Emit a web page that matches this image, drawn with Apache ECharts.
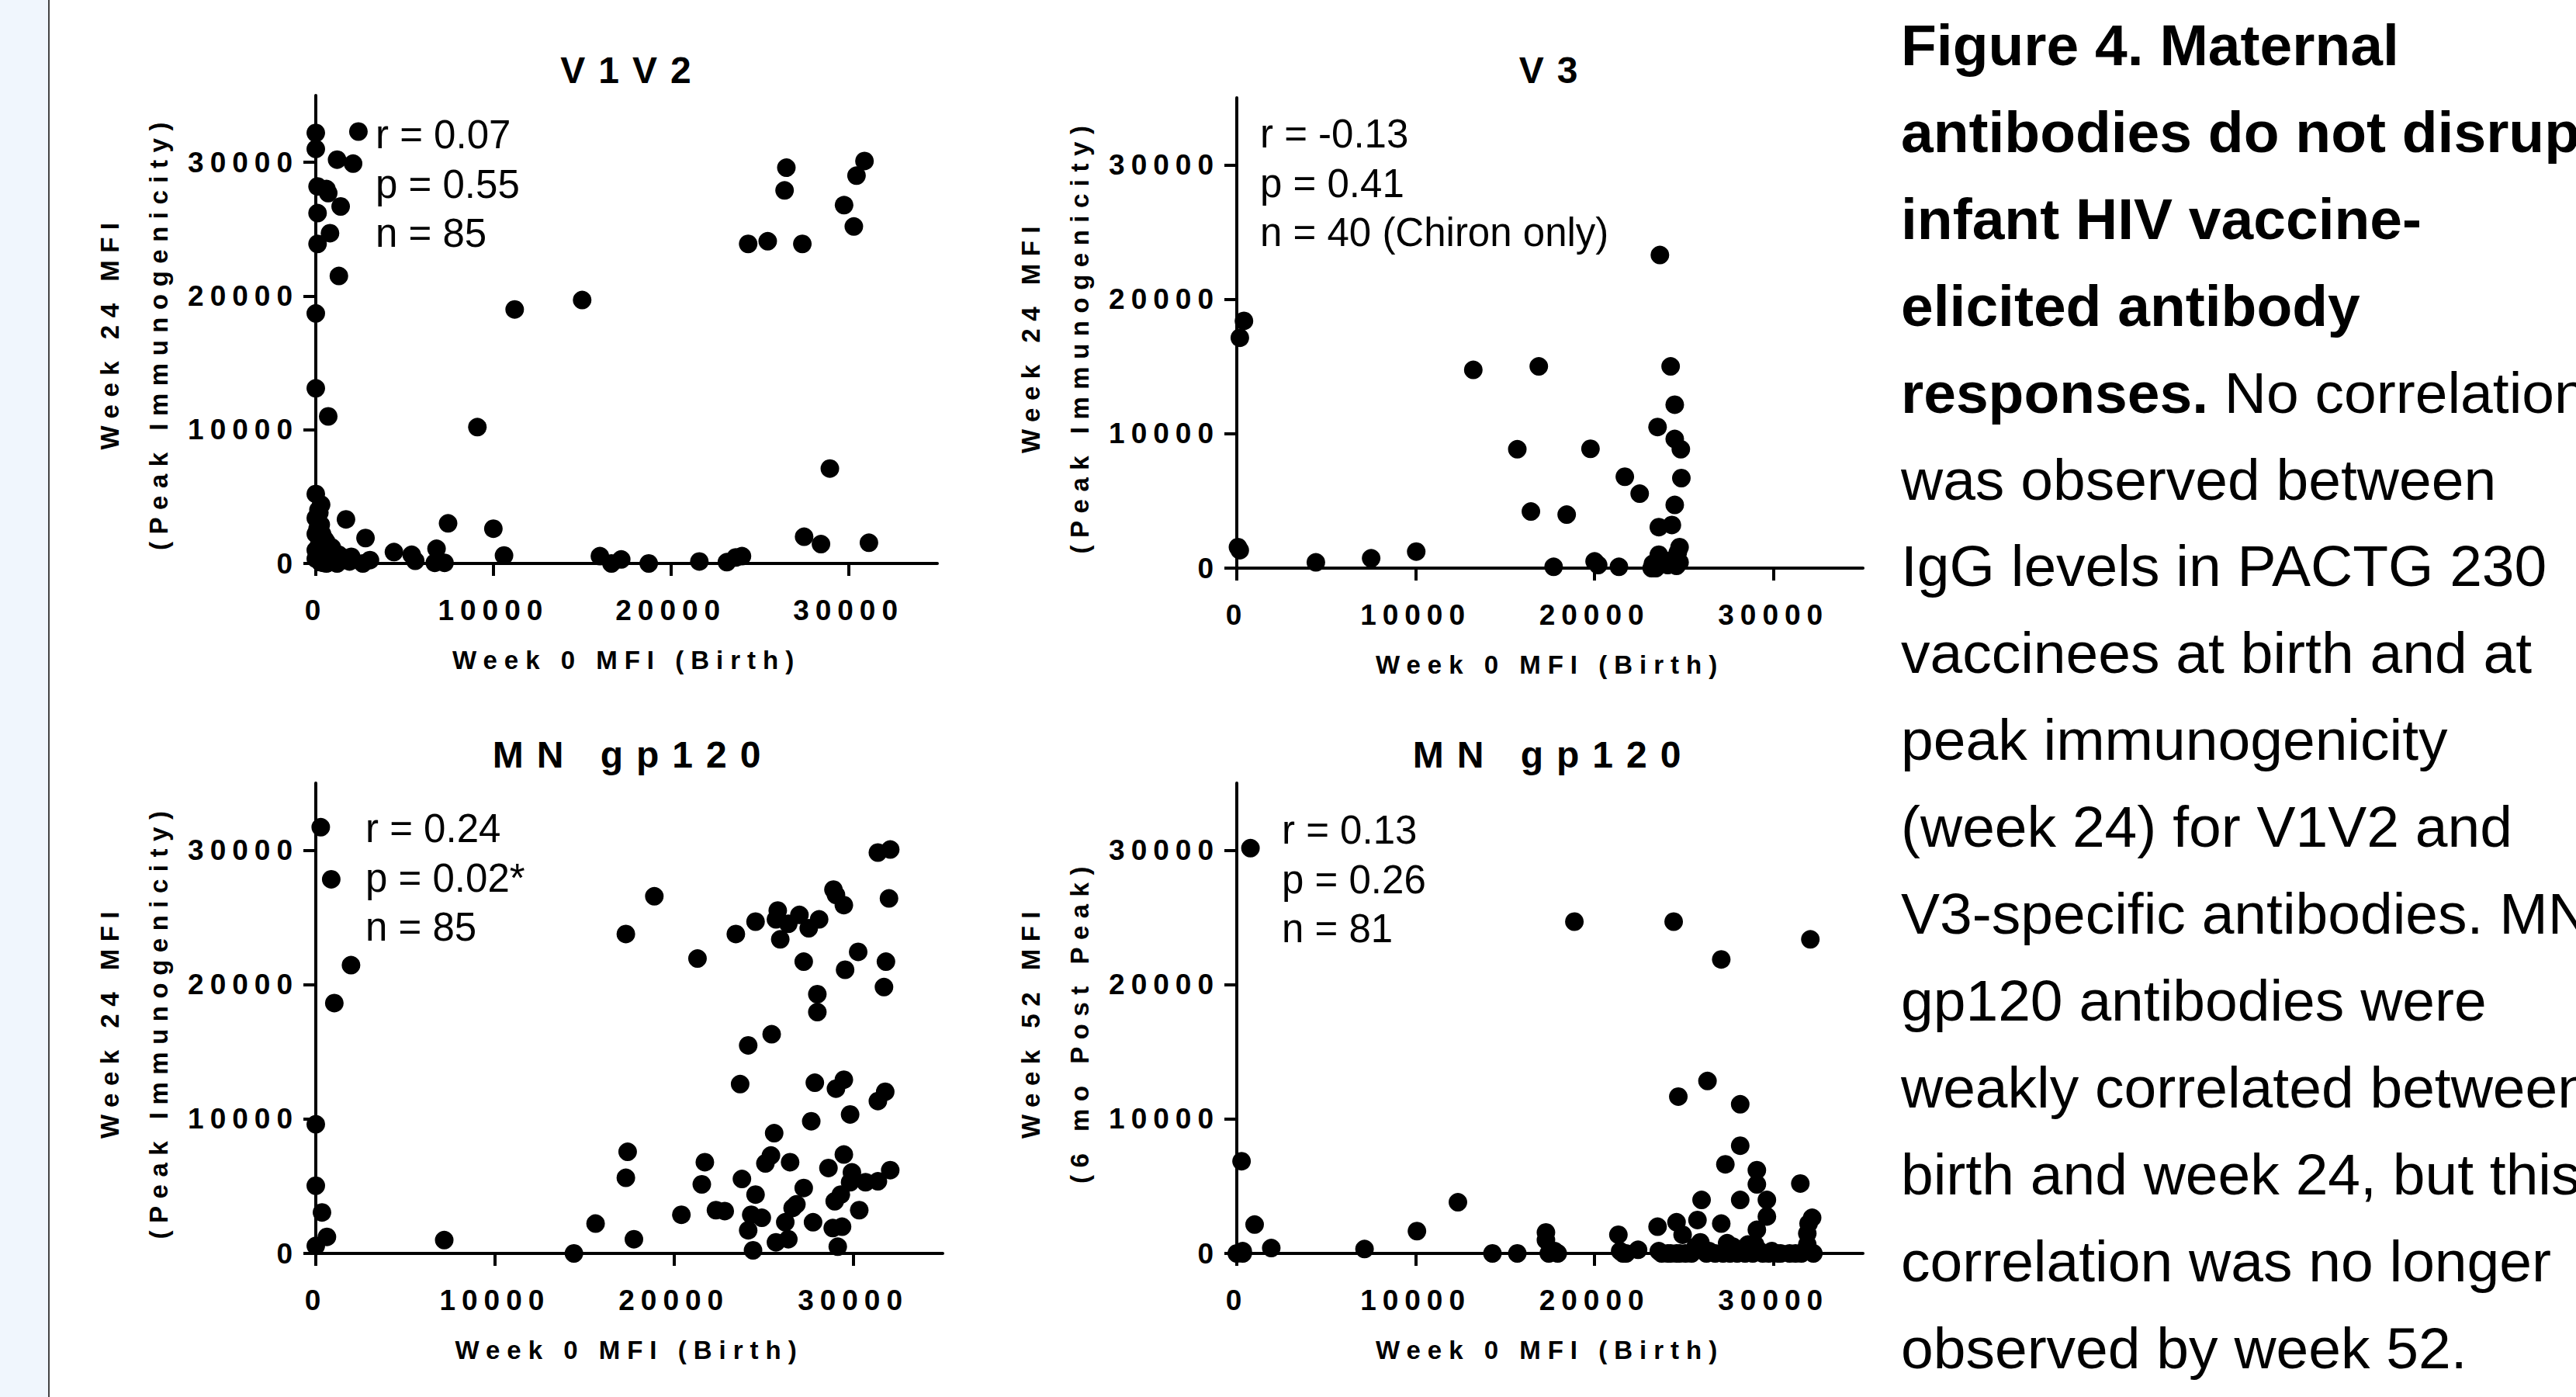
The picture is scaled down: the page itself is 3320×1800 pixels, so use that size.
<!DOCTYPE html>
<html><head><meta charset="utf-8">
<script src="https://cdn.jsdelivr.net/npm/echarts@6/dist/echarts.min.js"></script>
<style>
html,body{margin:0;padding:0;background:#fff;}
#chart{width:3320px;height:1800px;}
text[style*="LSpTick"]{letter-spacing:8px;}
text[style*="LSpName"]{letter-spacing:9px;}
text[style*="LSpYName"]{letter-spacing:9.5px;}
text[style*="LSpTitle"]{letter-spacing:17px;}
</style></head>
<body><div id="chart"></div>
<script>
// ---------- data ----------
const panelTitles = ['V1V2', 'V3', 'MN gp120', 'MN gp120'];
const xAxisTitle = 'Week 0 MFI (Birth)';
const yAxisTitleLine1 = ['Week 24 MFI', 'Week 24 MFI', 'Week 24 MFI', 'Week 52 MFI'];
const yAxisTitleLine2 = ['(Peak Immunogenicity)', '(Peak Immunogenicity)', '(Peak Immunogenicity)', '(6 mo Post Peak)'];
const tickValues = [0, 10000, 20000, 30000];
const statR = ['0.07', '-0.13', '0.24', '0.13'];
const statP = ['0.55', '0.41', '0.02*', '0.26'];
const statN = ['85', '40 (Chiron only)', '85', '81'];

const v1v2Birth = [0,0,2400,1200,2100,100,600,700,1400,100,800,100,1300,0,0,700,0,150,0,280,1700,2800,4400,5600,5400,6800,7450,6700,7250,10000,10600,9100,11200,15000,16000,16650,17200,18750,21600,23150,23650,24000,24350,25450,26500,26400,27400,27500,28450,28950,29750,30300,30450,30900,31150,2650,3050,1300,1900,600,0,450,150,350,500,900,250,1000,600,200,1100,350,0,800,1500,400,0,200,700,1200,500,2000,300,100,900];
const v1v2Week24 = [32200,31000,32300,30200,29900,28200,28000,27700,26700,26200,24700,23900,21500,18700,13100,11000,5200,4000,3400,2900,3300,1900,850,200,650,1100,3000,50,50,2600,600,10200,19000,19700,550,0,300,0,150,100,450,550,23900,24100,29600,27900,23900,2000,1450,7100,26800,25200,29000,30100,1550,0,250,650,150,0,350,1300,750,2200,1800,400,100,900,1600,3800,200,600,1000,100,400,50,2200,1500,700,0,300,500,4400,2600,1200];

const v3Birth = [400,170,66,166,4420,7510,10030,13220,16880,15680,16440,18440,17710,19770,20000,20200,21360,21690,22520,23190,23650,24250,23520,24480,24480,24820,24850,24480,23590,24320,24750,23590,23690,24250,24580,24750,23260,24090,24650,23420];
const v3Week24 = [18400,17140,1560,1330,430,730,1230,14750,15010,8850,4210,3980,100,8880,500,230,100,6800,5540,0,23300,15010,10500,12160,9610,8850,6700,4700,3050,3210,1560,1000,430,560,170,430,330,230,1160,0];

const mnBirth = [276,862,1966,1034,0,0,345,621,0,7170,14410,15620,17310,18900,17410,17310,17760,20410,21310,21720,21550,22340,22830,23450,23690,23790,24140,24550,24550,24310,24140,24900,24410,25100,25410,25590,25450,25790,25690,25930,26380,26210,26380,26480,26620,26830,27000,27240,27520,27660,27860,27240,27760,28100,28000,28000,28900,29040,29480,29550,29040,29480,29830,29480,28620,29930,28970,29310,28860,29380,29140,30280,30340,29830,31380,32070,32000,31830,31720,31380,31790,31380,32070,30690,25690];
const mnWeek24 = [31720,27840,21450,18630,9610,5040,3050,1230,560,990,0,2220,23770,26580,7560,5630,1060,2880,21940,6790,5140,3220,3150,23770,12600,5540,15480,24690,4380,2880,1720,2650,230,6700,7290,8950,16310,25520,24860,23370,24530,2320,1060,6790,3380,3650,25190,21710,24200,9840,12700,4870,2320,24860,19290,17960,27080,26680,25920,21110,12260,12930,10340,7360,6360,6030,3880,4380,1890,1990,500,22440,3220,5300,29830,30060,26420,21710,19820,11340,12030,5370,6200,5300,830];

const mn52Birth = [764,266,997,1927,0,332,7140,10070,12360,14290,15680,17280,17280,17440,17940,18870,21330,21430,21760,22430,23520,23750,24420,24680,24580,24920,24580,24250,25080,25750,25980,26310,25650,26250,27080,27080,27310,26740,27410,27570,28140,28140,28140,27970,29070,29070,29630,29630,29070,28970,28840,29400,29900,30400,30900,31500,31560,31890,31960,32160,31890,32230,32060,25420,25910,27180,28410,29740,31230,31730,23590,24090,24750,26410,27740,29240,30230,17770,330,21590,28570];
const mn52Week52 = [30160,6860,2150,400,0,0,330,1660,3810,0,0,1560,990,0,0,24690,1390,170,0,270,1990,0,24690,11670,2320,1390,0,0,0,2490,3980,12830,500,0,21880,2220,6630,0,760,0,11100,8020,3980,0,6200,5140,3980,2750,1760,660,0,0,170,0,0,5200,0,1490,2220,2650,660,0,23370,0,830,0,0,0,0,170,170,0,0,170,500,170,0,170,170,0,660];

const captionBold = ['Figure 4. Maternal', 'antibodies do not disrupt', 'infant HIV vaccine-', 'elicited antibody', 'responses.', '', '', '', '', '', '', '', '', '', '', ''];
const captionPlain = ['', '', '', '', ' No correlation', 'was observed between', 'IgG levels in PACTG 230', 'vaccinees at birth and at', 'peak immunogenicity', '(week 24) for V1V2 and', 'V3-specific antibodies. MN', 'gp120 antibodies were', 'weakly correlated between', 'birth and week 24, but this', 'correlation was no longer', 'observed by week 52.'];

// ---------- layout ----------
const F_TICK = "LSpTick, 'Liberation Sans', Arial, sans-serif";
const F_NAME = "LSpName, 'Liberation Sans', Arial, sans-serif";
const F_YNAME = "LSpYName, 'Liberation Sans', Arial, sans-serif";
const F_TITLE = "LSpTitle, 'Liberation Sans', Arial, sans-serif";
const F_TEXT = "'Liberation Sans', Arial, sans-serif";

const grids = [
  {left: 407, top: 123, width: 801, height: 603},
  {left: 1594, top: 126, width: 807, height: 606},
  {left: 407, top: 1009, width: 808, height: 606},
  {left: 1594, top: 1009, width: 807, height: 606}
];
const titlePos = [[815, 90], [2004, 90], [816, 972], [2002, 972]];
const statPos = [[484, 142], [1624, 141], [471, 1036], [1652, 1038]];
const seriesData = [
  [v1v2Birth, v1v2Week24], [v3Birth, v3Week24], [mnBirth, mnWeek24], [mn52Birth, mn52Week52]
];

const chart = echarts.init(document.getElementById('chart'), null, {renderer: 'svg', width: 3320, height: 1800});

const axisCommon = (i) => ({
  type: 'value', gridIndex: i, min: 0, max: 35000, interval: 10000,
  splitLine: {show: false},
  axisLine: {show: true, onZero: false, lineStyle: {color: '#000', width: 4}},
  axisTick: {show: true, length: 16, customValues: tickValues, lineStyle: {color: '#000', width: 4}},
});

const yNameGraphics = [];
grids.forEach((g, i) => {
  const cy = g.top + g.height / 2 + 4;
  yNameGraphics.push({
    type: 'text', x: g.left - 266, y: cy, rotation: Math.PI / 2, silent: true,
    style: {text: yAxisTitleLine1[i], fill: '#000', fontSize: 33, fontWeight: 'bold', fontFamily: F_YNAME,
      align: 'center', verticalAlign: 'middle', textAlign: 'center', textVerticalAlign: 'middle'}
  });
  yNameGraphics.push({
    type: 'text', x: g.left - 203, y: cy, rotation: Math.PI / 2, silent: true,
    style: {text: yAxisTitleLine2[i], fill: '#000', fontSize: 33, fontWeight: 'bold', fontFamily: F_YNAME,
      align: 'center', verticalAlign: 'middle', textAlign: 'center', textVerticalAlign: 'middle'}
  });
});

const option = {
  animation: false,
  backgroundColor: '#fff',
  grid: grids.map(g => Object.assign({outerBoundsMode: 'none', containLabel: false}, g)),
  xAxis: grids.map((g, i) => Object.assign(axisCommon(i), {
    axisLabel: {customValues: tickValues, margin: 38, color: '#000', fontSize: 37, fontWeight: 'bold', fontFamily: F_TICK, lineHeight: 44, formatter: v => String(v)},
    name: xAxisTitle, nameLocation: 'middle', nameGap: 104,
    nameTextStyle: {color: '#000', fontSize: 33, fontWeight: 'bold', fontFamily: F_NAME, lineHeight: 40}
  })),
  yAxis: grids.map((g, i) => Object.assign(axisCommon(i), {
    axisLabel: {customValues: tickValues, margin: 22, color: '#000', fontSize: 37, fontWeight: 'bold', fontFamily: F_TICK, lineHeight: 44, padding: [8, 0, 0, 0], formatter: v => String(v)}
  })),
  series: seriesData.map((d, i) => ({
    type: 'scatter', xAxisIndex: i, yAxisIndex: i, clip: false, silent: true,
    symbol: 'circle', symbolSize: 24,
    itemStyle: {color: '#000', opacity: 1},
    data: d[0].map((x, k) => [x, d[1][k]])
  })),
  graphic: [].concat(
    [
      {type: 'rect', left: 0, top: 0, shape: {x: 0, y: 0, width: 62, height: 1800}, style: {fill: '#f0f6fd'}, silent: true},
      {type: 'line', shape: {x1: 63, y1: 0, x2: 63, y2: 1800}, style: {stroke: '#444', lineWidth: 2}, silent: true}
    ],
    yNameGraphics,
    panelTitles.map((t, i) => ({
      type: 'text', x: titlePos[i][0], y: titlePos[i][1], silent: true,
      style: {text: t, fill: '#000', fontSize: 48, fontWeight: 'bold', fontFamily: F_TITLE,
        align: 'center', verticalAlign: 'middle', textAlign: 'center', textVerticalAlign: 'middle'}
    })),
    statR.map((r, i) => ({
      type: 'text', x: statPos[i][0], y: statPos[i][1], silent: true,
      style: {text: 'r = ' + r + '\np = ' + statP[i] + '\nn = ' + statN[i], fill: '#000', fontSize: 51, fontFamily: F_TEXT,
        lineHeight: 63.5, align: 'left', verticalAlign: 'top', textAlign: 'left', textVerticalAlign: 'top'}
    })),
    captionPlain.map((p, i) => ({
      type: 'text', x: 2450, y: 58 + 111.9 * i, silent: true,
      style: {
        text: (captionBold[i] ? '{b|' + captionBold[i] + '}' : '') + (p ? '{r|' + p + '}' : ''),
        align: 'left', verticalAlign: 'middle', textAlign: 'left', textVerticalAlign: 'middle',
        rich: {
          b: {fontSize: 75, fontWeight: 'bold', fontFamily: F_TEXT, fill: '#000', color: '#000', lineHeight: 100},
          r: {fontSize: 75, fontWeight: 'normal', fontFamily: F_TEXT, fill: '#000', color: '#000', lineHeight: 100}
        }
      }
    }))
  )
};
chart.setOption(option);
</script>
</body></html>
